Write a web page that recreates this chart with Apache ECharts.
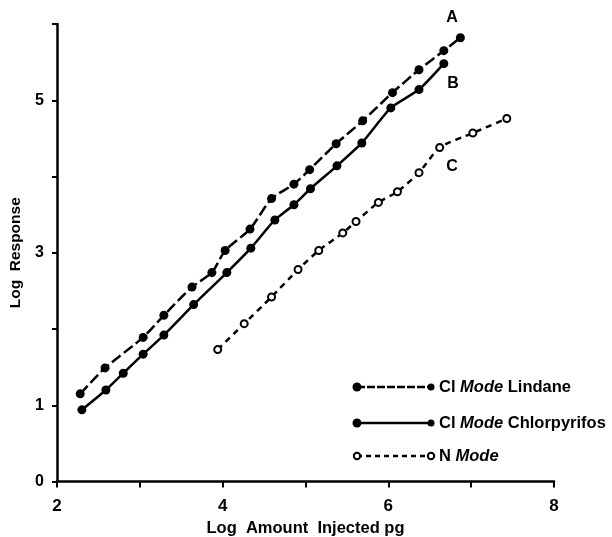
<!DOCTYPE html>
<html><head><meta charset="utf-8">
<script src="https://cdn.jsdelivr.net/npm/echarts@6/dist/echarts.min.js"></script>
<style>html,body{margin:0;padding:0;background:#fff}#c{width:612px;height:537px}</style>
</head><body><div id="c"></div>
<script>
// Log amount injected (pg) and log response
const lindaneX = [2.28, 2.58, 3.04, 3.29, 3.63, 3.87, 4.03, 4.33, 4.59, 4.86, 5.05, 5.37, 5.69, 6.05, 6.37, 6.67, 6.87];
const lindaneY = [1.15, 1.49, 1.89, 2.18, 2.55, 2.74, 3.03, 3.31, 3.71, 3.90, 4.09, 4.43, 4.73, 5.10, 5.40, 5.65, 5.82];
const chlorX = [2.30, 2.59, 2.80, 3.04, 3.29, 3.65, 4.05, 4.34, 4.63, 4.86, 5.06, 5.38, 5.68, 6.03, 6.37, 6.67];
const chlorY = [0.94, 1.20, 1.42, 1.67, 1.92, 2.32, 2.74, 3.06, 3.43, 3.63, 3.84, 4.14, 4.44, 4.90, 5.14, 5.48];
const nModeX = [3.94, 4.26, 4.59, 4.91, 5.16, 5.45, 5.61, 5.88, 6.11, 6.37, 6.62, 7.02, 7.43];
const nModeY = [1.73, 2.07, 2.42, 2.78, 3.03, 3.26, 3.41, 3.66, 3.80, 4.05, 4.38, 4.57, 4.76];
const xLabelValues = [2, 4, 6, 8];
const yLabelValues = [0, 1, 3, 5];
const seriesNames = ['Cl Mode Lindane', 'Cl Mode Chlorpyrifos', 'N Mode'];
const curveLetters = ['A', 'B', 'C'];

const zip = (xs, ys) => xs.map((x, i) => [x, ys[i]]);
const FONT = 'Liberation Sans';
const chart = echarts.init(document.getElementById('c'), null, {renderer: 'canvas'});

function legendRow(y, dash, filled, label) {
  const els = [];
  els.push({type: 'line', shape: {x1: 357, y1: y, x2: 431, y2: y},
    style: {stroke: '#000', lineWidth: 2.5, lineDash: dash}});
  [357, 431].forEach((cx, i) => {
    els.push({type: 'circle', shape: {cx: cx, cy: y, r: filled ? (i === 0 ? 4.5 : 3.5) : 3.2},
      style: {fill: filled ? '#000' : '#fff', stroke: '#000', lineWidth: filled ? 0 : 2}});
  });
  const parts = label.split('Mode');
  els.push({type: 'text', x: 439, y: y, style: {
    text: '{n|' + parts[0] + '}{i|Mode}{n|' + parts[1] + '}',
    verticalAlign: 'middle', align: 'left',
    rich: {
      n: {fontFamily: FONT, fontSize: 16.5, fontWeight: 'bold', fill: '#000'},
      i: {fontFamily: FONT, fontSize: 16.5, fontWeight: 'bold', fontStyle: 'italic', fill: '#000'}
    }}});
  return els;
}

const option = {
  backgroundColor: '#fff',
  animation: false,
  grid: {left: 57, right: 58, top: 24, bottom: 55.5, containLabel: false, outerBoundsMode: 'none'},
  xAxis: {
    type: 'value', min: 2, max: 8, interval: 1,
    name: 'Log  Amount  Injected pg', nameLocation: 'middle', nameGap: 38,
    nameTextStyle: {fontFamily: FONT, fontSize: 16.5, fontWeight: 'bold', color: '#000'},
    axisLine: {show: true, lineStyle: {color: '#000', width: 2.5}},
    axisTick: {show: true, length: 6, lineStyle: {color: '#000', width: 2}},
    axisLabel: {margin: 16, fontFamily: FONT, fontSize: 17, fontWeight: 'bold', color: '#000',
      formatter: v => xLabelValues.includes(v) ? String(v) : ''},
    splitLine: {show: false}
  },
  yAxis: {
    type: 'value', min: 0, max: 6, interval: 1,
    name: 'Log  Response', nameLocation: 'middle', nameGap: 33,
    nameTextStyle: {fontFamily: FONT, fontSize: 15.5, fontWeight: 'bold', color: '#000'},
    axisLine: {show: true, lineStyle: {color: '#000', width: 2.5}},
    axisTick: {show: true, length: 5, lineStyle: {color: '#000', width: 2}},
    axisLabel: {margin: 13, fontFamily: FONT, fontSize: 16, fontWeight: 'bold', color: '#000',
      formatter: v => yLabelValues.includes(v) ? String(v) : ''},
    splitLine: {show: false}
  },
  series: [
    {name: seriesNames[0], type: 'line', data: zip(lindaneX, lindaneY), smooth: 0.2,
      lineStyle: {color: '#000', width: 2.5, type: [11, 4]},
      symbol: 'circle', symbolSize: 9, itemStyle: {color: '#000'}},
    {name: seriesNames[1], type: 'line', data: zip(chlorX, chlorY), smooth: 0.2,
      lineStyle: {color: '#000', width: 2.5, type: 'solid'},
      symbol: 'circle', symbolSize: 9, itemStyle: {color: '#000'}},
    {name: seriesNames[2], type: 'line', data: zip(nModeX, nModeY), smooth: 0.2,
      lineStyle: {color: '#000', width: 2.5, type: [6, 5]},
      symbol: 'circle', symbolSize: 7, itemStyle: {color: '#fff', borderColor: '#000', borderWidth: 2}}
  ],
  graphic: [
    {type: 'text', x: 452, y: 18, style: {text: curveLetters[0], align: 'center', verticalAlign: 'middle',
      fontFamily: FONT, fontSize: 16, fontWeight: 'bold', fill: '#000'}},
    {type: 'text', x: 453, y: 84, style: {text: curveLetters[1], align: 'center', verticalAlign: 'middle',
      fontFamily: FONT, fontSize: 16, fontWeight: 'bold', fill: '#000'}},
    {type: 'text', x: 452, y: 167, style: {text: curveLetters[2], align: 'center', verticalAlign: 'middle',
      fontFamily: FONT, fontSize: 16, fontWeight: 'bold', fill: '#000'}},
    ...legendRow(387, [8, 2], true, seriesNames[0]),
    ...legendRow(423, null, true, seriesNames[1]),
    ...legendRow(456, [5, 4], false, seriesNames[2])
  ]
};
chart.setOption(option);
</script>
</body></html>
